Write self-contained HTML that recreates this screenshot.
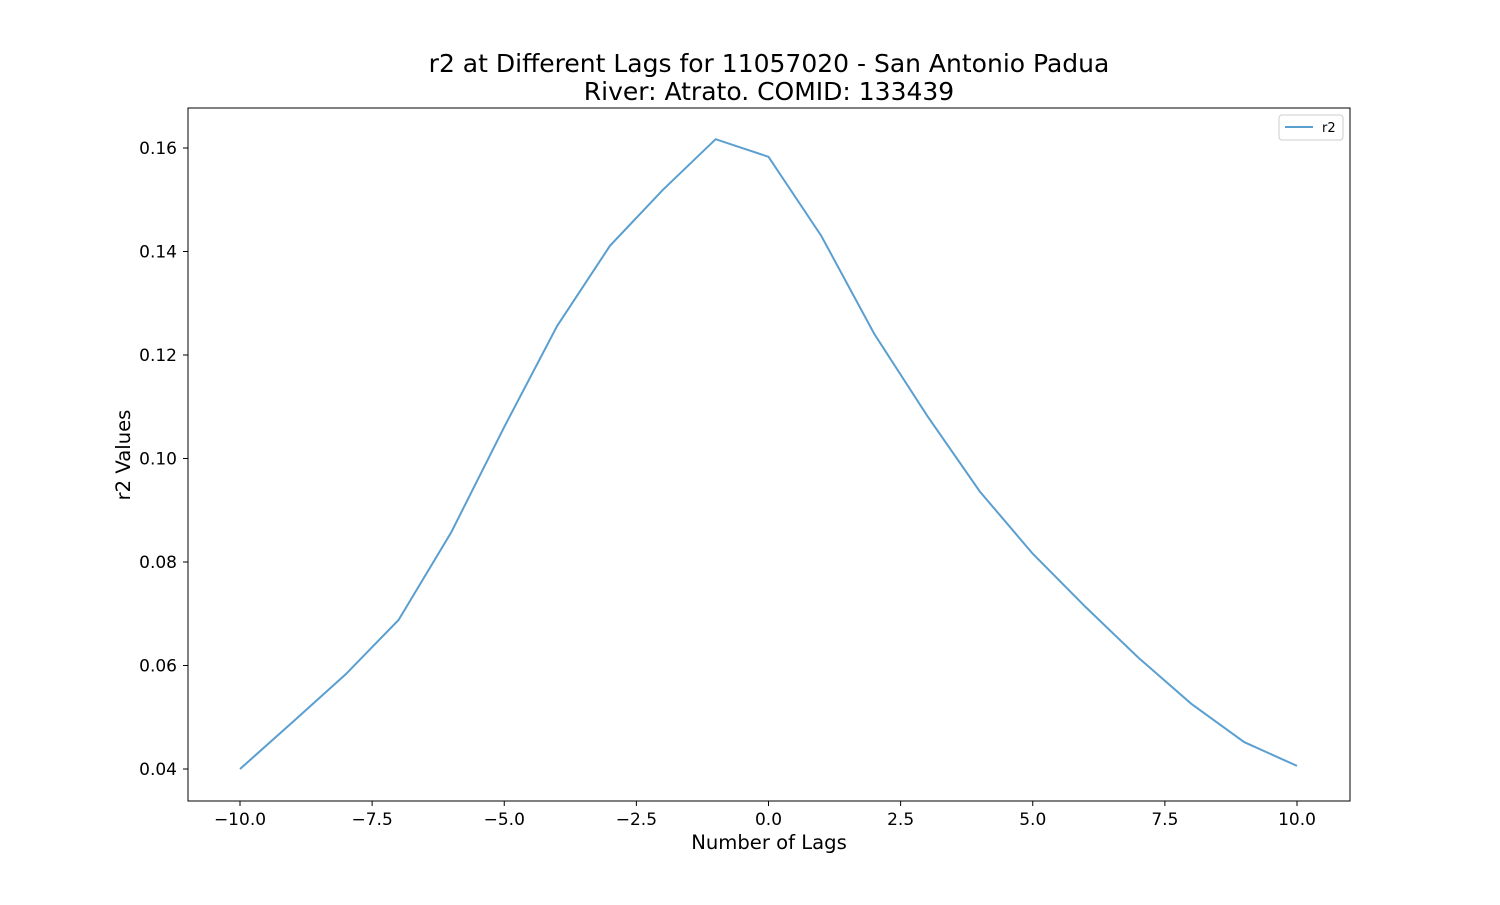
<!DOCTYPE html>
<html><head><meta charset="utf-8"><style>
body{margin:0;background:#fff;}
svg text{font-family:"DejaVu Sans","Liberation Sans",sans-serif;}
</style></head><body>
<svg id="chart" width="1500" height="900" xmlns="http://www.w3.org/2000/svg">
<rect width="1500" height="900" fill="#fff"/>
<text x="769" y="72" font-size="25" text-anchor="middle">r2 at Different Lags for 11057020 - San Antonio Padua</text>
<text x="769" y="100" font-size="25" text-anchor="middle">River: Atrato. COMID: 133439</text>
<g id="xticks"></g>
<g id="yticks"></g>
<polyline id="line" fill="none" stroke="#5a9fd0" stroke-width="2"/>
<rect x="188" y="108" width="1162" height="693" fill="none" stroke="#000" stroke-width="1"/>
<text x="769" y="849" font-size="19.6" text-anchor="middle">Number of Lags</text>
<text x="130" y="455" font-size="19.6" text-anchor="middle" transform="rotate(-90 130 455)">r2 Values</text>
<g>
<rect x="1279" y="115" width="64" height="25" fill="#fff" stroke="#ccc" rx="3"/>
<line x1="1285" y1="127" x2="1313" y2="127" stroke="#5a9fd0" stroke-width="2"/>
<text x="1322" y="132" font-size="13">r2</text>
</g>
</svg>
<script>
const lags=[-10,-9,-8,-7,-6,-5,-4,-3,-2,-1,0,1,2,3,4,5,6,7,8,9,10];
const r2Values=[0.0400,0.0491,0.0583,0.0688,0.0858,0.1061,0.1256,0.1411,0.1519,0.1617,0.1583,0.1430,0.1241,0.1083,0.0936,0.0816,0.0713,0.0615,0.0526,0.0452,0.0406];
const xTicks=[-10,-7.5,-5,-2.5,0,2.5,5,7.5,10];
const yTicks=[0.04,0.06,0.08,0.10,0.12,0.14,0.16];
const X=v=>240+(v+10)*(1297-240)/20;
const Y=v=>769-(v-0.04)*(769-148)/0.12;
const ns="http://www.w3.org/2000/svg";
document.getElementById('line').setAttribute('points',lags.map((l,i)=>X(l)+','+Y(r2Values[i])).join(' '));
const xg=document.getElementById('xticks'),yg=document.getElementById('yticks');
xTicks.forEach(t=>{
 const l=document.createElementNS(ns,'line');
 l.setAttribute('x1',X(t));l.setAttribute('x2',X(t));l.setAttribute('y1',801);l.setAttribute('y2',806);l.setAttribute('stroke','#000');
 
 
 xg.appendChild(l);
 const tx=document.createElementNS(ns,'text');
 tx.setAttribute('x',X(t));tx.setAttribute('y',825);tx.setAttribute('font-size','17');tx.setAttribute('text-anchor','middle');
 tx.textContent=(t<0?'\u2212':'')+Math.abs(t).toFixed(1);
 
 
 xg.appendChild(tx);
});
yTicks.forEach(t=>{
 const l=document.createElementNS(ns,'line');
 l.setAttribute('x1',183);l.setAttribute('x2',188);l.setAttribute('y1',Y(t));l.setAttribute('y2',Y(t));l.setAttribute('stroke','#000');
 
 
 yg.appendChild(l);
 const tx=document.createElementNS(ns,'text');
 tx.setAttribute('x',177);tx.setAttribute('y',Y(t)+6);tx.setAttribute('font-size','17');tx.setAttribute('text-anchor','end');
 tx.textContent=t.toFixed(2);
 
 
 yg.appendChild(tx);
});
</script>
</body></html>
